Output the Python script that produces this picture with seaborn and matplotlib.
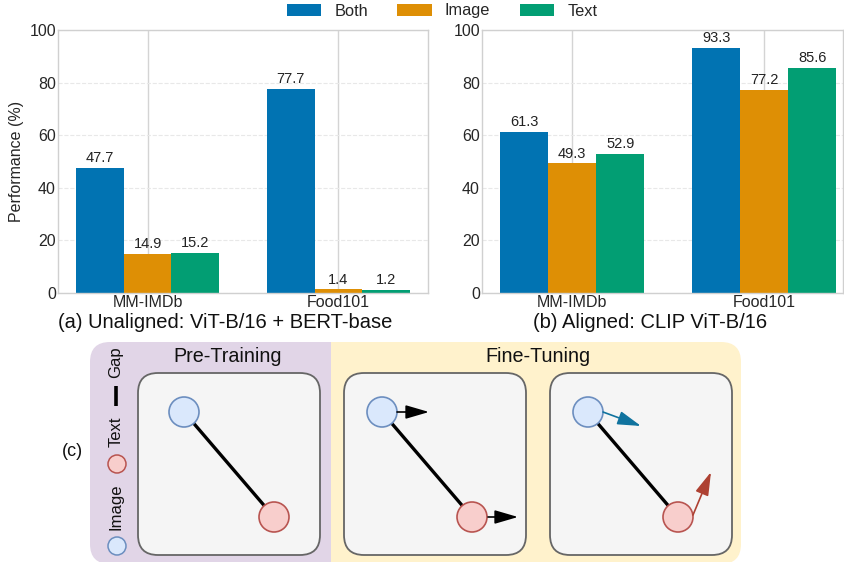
import pandas as pd
import matplotlib.pyplot as plt
import numpy as np
import seaborn as sns
from matplotlib.patches import FancyBboxPatch, Rectangle, Circle, FancyArrowPatch

datasets = ["MM-IMDb", "Food101"]
modalities = ["Both", "Image", "Text"]
unaligned = [[47.7, 14.9, 15.2], [77.7, 1.4, 1.2]]
aligned = [[61.3, 49.3, 52.9], [93.3, 77.2, 85.6]]
colors = ["#0173B2", "#DE8F05", "#029E73"]
yticks = [0, 20, 40, 60, 80, 100]

sns.set_theme(style="whitegrid")
plt.rcParams['font.family'] = ['Liberation Sans', 'DejaVu Sans']

W, H = 844, 562
fig = plt.figure(figsize=(W / 100, H / 100), dpi=100)


def toDF(values):
    rows = []
    for d, vals in zip(datasets, values):
        for m, v in zip(modalities, vals):
            rows.append({"Dataset": d, "Modality": m, "Performance": v})
    return pd.DataFrame(rows)


def px_axes(x0, x1, y0, y1):
    return fig.add_axes([x0 / W, 1 - y1 / H, (x1 - x0) / W, (y1 - y0) / H])


# ---- diagram layer (pixel coordinates) ----
axd = fig.add_axes([0, 0, 1, 1])
axd.set_xlim(0, W)
axd.set_ylim(H, 0)
axd.axis("off")

axd.add_patch(FancyBboxPatch((90, 342), 290, 222, boxstyle="round,pad=0,rounding_size=20",
                             fc="#e1d5e7", ec="none"))
axd.add_patch(FancyBboxPatch((331, 342), 410, 222, boxstyle="round,pad=0,rounding_size=20",
                             fc="#fff2cc", ec="none"))
axd.add_patch(Rectangle((331, 342), 40, 222, fc="#fff2cc", ec="none"))

for bx in [138, 344, 550]:
    axd.add_patch(FancyBboxPatch((bx, 373), 182, 182, boxstyle="round,pad=0,rounding_size=20",
                                 fc="#f5f5f5", ec="#666666", lw=1.3))

blue_fc, blue_ec = "#dae8fc", "#6c8ebf"
red_fc, red_ec = "#f8cecc", "#b85450"

for ix in [184, 382, 588]:
    tx = ix + 90
    axd.plot([ix, tx], [412, 517], color="black", lw=2.4, solid_capstyle="butt", zorder=2)
    axd.add_patch(Circle((ix, 412), 15, fc=blue_fc, ec=blue_ec, lw=1.2, zorder=3))
    axd.add_patch(Circle((tx, 517), 15, fc=red_fc, ec=red_ec, lw=1.2, zorder=3))


def arrow(p0, p1, c):
    axd.add_patch(FancyArrowPatch(p0, p1, arrowstyle="-|>,head_length=1.3,head_width=0.38",
                                  mutation_scale=11, color=c, lw=1.2, shrinkA=0, shrinkB=0, zorder=4))


arrow((397, 412), (429, 412), "black")
arrow((488, 517), (518, 517), "black")
arrow((603, 412), (641, 426), "#10739e")
arrow((693, 515), (711, 472), "#ae4132")

axd.text(228, 357, "Pre-Training", ha="center", va="center", fontsize=14.2, color="#111111")
axd.text(538, 357, "Fine-Tuning", ha="center", va="center", fontsize=14.2, color="#111111")
axd.text(72, 452, "(c)", ha="center", va="center", fontsize=13, color="#111111")

# rotated legend column
axd.add_patch(Circle((117, 546), 9, fc=blue_fc, ec=blue_ec, lw=1.1))
axd.text(116, 507, "Image", rotation=90, ha="center", va="center", fontsize=12, color="#111111")
axd.add_patch(Circle((117, 464), 9, fc=red_fc, ec=red_ec, lw=1.1))
axd.text(116, 432, "Text", rotation=90, ha="center", va="center", fontsize=12, color="#111111")
axd.plot([116, 116], [386, 406], color="black", lw=2.6, solid_capstyle="butt")
axd.text(116, 362, "Gap", rotation=90, ha="center", va="center", fontsize=12, color="#111111")

# ---- bar charts ----
axL = px_axes(58, 428, 30, 293)
axR = px_axes(482, 843, 30, 293)

for ax, vals, xr in [(axL, unaligned, 1.47), (axR, aligned, 1.41)]:
    sns.barplot(data=toDF(vals), x="Dataset", y="Performance", hue="Modality",
                palette=colors, saturation=1, width=0.75, linewidth=0, errorbar=None,
                ax=ax, legend=(ax is axL))
    for cont in ax.containers:
        ax.bar_label(cont, fmt="%.1f", padding=2, fontsize=10.5, color="#222222")
    ax.set_xlim(-0.47, xr)
    ax.set_ylim(0, 100)
    ax.set_yticks(yticks)
    ax.set_xlabel("")
    ax.set_ylabel("")
    ax.grid(axis="x", color="#d4d4d4", lw=1, ls="-")
    ax.grid(axis="y", color="#e8e8e8", lw=0.8, ls="--")
    ax.tick_params(axis="both", length=0, pad=1.5, labelsize=11.5, labelcolor="#262626")
    for s in ax.spines.values():
        s.set_color("#d0d0d0")
        s.set_linewidth(1)

axL.set_ylabel("Performance (%)", fontsize=11.5, color="#262626", labelpad=4)

handles, labels = axL.get_legend_handles_labels()
axL.get_legend().remove()
fig.legend(handles, labels, loc="center", bbox_to_anchor=(442 / W, 1 - 11 / H), ncol=3,
           frameon=False, fontsize=11.8, handlelength=2.1, handleheight=0.8,
           handletextpad=0.8, columnspacing=1.8, labelcolor="#262626")

fig.text(225 / W, 1 - 322 / H, "(a) Unaligned: ViT-B/16 + BERT-base", ha="center", va="center",
         fontsize=14.5, color="#111111")
fig.text(650 / W, 1 - 322 / H, "(b) Aligned: CLIP ViT-B/16", ha="center", va="center",
         fontsize=14.5, color="#111111")

fig.savefig("out.png", dpi=100)
